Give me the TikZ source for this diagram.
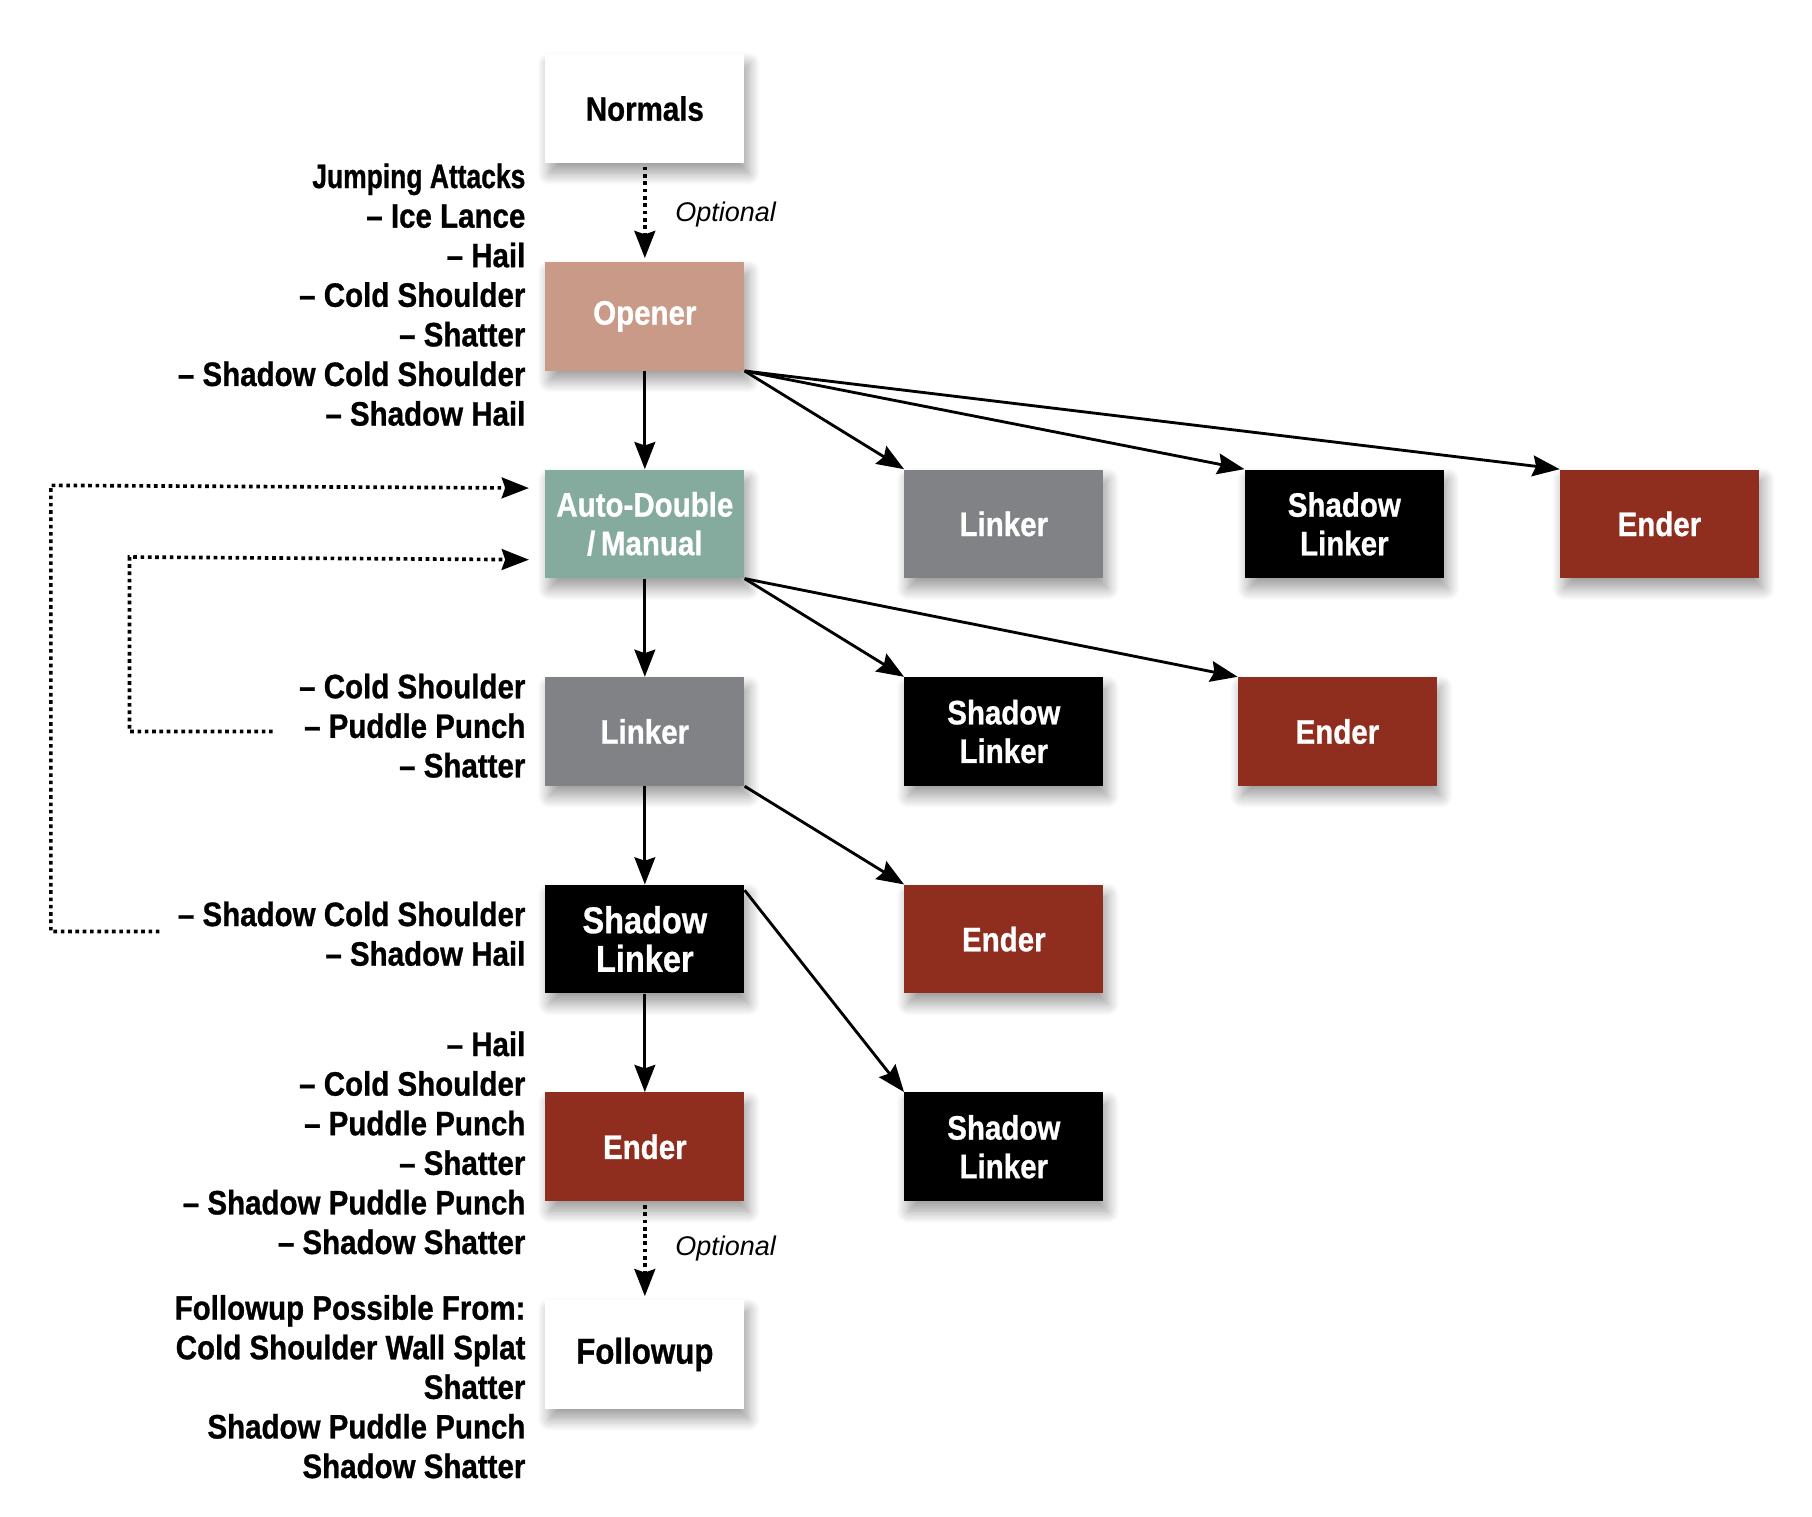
\documentclass[tikz,border=0pt]{standalone}
\usepackage{fontspec}
\setmainfont{Liberation Sans}[FakeStretch=0.87, BoldFeatures={FakeBold=0.8}]
\newfontfamily\optfont{Liberation Sans}
\usetikzlibrary{positioning, arrows.meta, shadows.blur, calc}
\definecolor{openertan}{HTML}{C89A87}
\definecolor{autoteal}{HTML}{85AB9E}
\definecolor{linkergray}{HTML}{808285}
\definecolor{enderred}{HTML}{8F2E1E}

\begin{document}
\begin{tikzpicture}[
    x=0.02cm, y=-0.02cm,
    box/.style={
        rectangle, minimum width=3.44cm, minimum height=1.88cm,
        align=center, text=white, inner sep=2pt,
        font=\bfseries\fontsize{16.7}{19}\selectfont,
        blur shadow={shadow xshift=2pt, shadow yshift=-5pt, shadow blur radius=6pt,
            shadow blur steps=14, shadow opacity=40}
    },
    plainbox/.style={box, fill=white, text=black},
    openbox/.style={box, fill=openertan},
    autobox/.style={box, fill=autoteal},
    linkbox/.style={box, fill=linkergray},
    shadowbox/.style={box, fill=black},
    endbox/.style={box, fill=enderred},
    movelist/.style={anchor=east, align=right, inner sep=0pt,
        font=\bfseries\fontsize{16.7}{19.5}\selectfont},
    optlabel/.style={anchor=west, inner sep=0pt,
        font=\optfont\itshape\fontsize{13.3}{16}\selectfont},
    arrow/.style={-{Stealth[length=0.47cm, width=0.36cm, inset=0.06cm]}, line width=1.4pt},
    optarrow/.style={arrow, line width=1.8pt, dash pattern=on 1.8pt off 1.8pt,
        shorten <=0.06cm, shorten >=0.06cm},
    looparrow/.style={arrow, line width=1.8pt, dash pattern=on 1.8pt off 1.8pt},
    node distance=1.7cm and 2.76cm,
]
\useasboundingbox (0,0) rectangle (1568,1312);

% main column
\node[plainbox] (normals) at (558,94) {Normals};
\node[openbox, below=of normals] (opener) {Opener};
\node[autobox, below=of opener] (autod) {Auto-Double\\/\,Manual};
\node[linkbox, below=of autod] (linker) {Linker};
\node[shadowbox, below=of linker, font=\bfseries\fontsize{18.4}{19}\selectfont] (shlinker) {Shadow\\Linker};
\node[endbox, below=of shlinker] (ender) {Ender};
\node[plainbox, below=of ender, font=\bfseries\fontsize{17.7}{19}\selectfont] (followup) {Followup};

% branches
\node[linkbox, right=of autod] (linkerb) {Linker};
\node[shadowbox, right=of linker] (shlinkerb) {Shadow\\Linker};
\node[endbox, right=of shlinker] (enderb) {Ender};
\node[shadowbox, right=of ender] (shlinkerc) {Shadow\\Linker};
\node[shadowbox, right=2.44cm of linkerb] (shlinkerd) {Shadow\\Linker};
\node[endbox, right=2.32cm of shlinkerb] (enderc) {Ender};
\node[endbox, right=2cm of shlinkerd] (enderd) {Ender};

% move lists
\node[movelist] (openmoves) at (455,255) {{\addfontfeatures{FakeStretch=0.78}Jumping Attacks}\\-- Ice Lance\\-- Hail\\-- Cold Shoulder\\-- Shatter\\-- Shadow Cold Shoulder\\-- Shadow Hail};
\node[movelist] (linkmoves) at (455,628) {-- Cold Shoulder\\-- Puddle Punch\\-- Shatter};
\node[movelist] (shadowmoves) at (455,808) {-- Shadow Cold Shoulder\\-- Shadow Hail};
\node[movelist] (endmoves) at (455,989) {-- Hail\\-- Cold Shoulder\\-- Puddle Punch\\-- Shatter\\-- Shadow Puddle Punch\\-- Shadow Shatter};
\node[movelist] (followmoves) at (455,1200) {Followup Possible From:\\Cold Shoulder Wall Splat\\Shatter\\Shadow Puddle Punch\\Shadow Shatter};

\node[optlabel] (optone) at (584,186) {Optional};
\node[optlabel] (opttwo) at (584,1080) {Optional};

\draw[optarrow] (normals) -- (opener);
\draw[arrow] (opener) -- (autod);
\draw[arrow] (autod) -- (linker);
\draw[arrow] (linker) -- (shlinker);
\draw[arrow] (shlinker) -- (ender);
\draw[optarrow] (ender) -- (followup);

\draw[arrow] (opener.south east) -- (linkerb.north west);
\draw[arrow] (opener.south east) -- (shlinkerd.north west);
\draw[arrow] (opener.south east) -- (enderd.north west);
\draw[arrow] (autod.south east) -- (shlinkerb.north west);
\draw[arrow] (autod.south east) -- (enderc.north west);
\draw[arrow] (linker.south east) -- (enderb.north west);
\draw[arrow] ([yshift=-0.1cm]shlinker.north east) -- (shlinkerc.north west);

% loops back to auto-double
\coordinate (outerfrom) at (138,806);
\coordinate (outercorner) at (44,420);
\coordinate (innerfrom) at (236,633);
\coordinate (innercorner) at (112,482);
\draw[looparrow] (outerfrom) -| (outercorner) -- ($(autod.west)+(-14,-31)$);
\draw[looparrow] (innerfrom) -| (innercorner) -- ($(autod.west)+(-14,31)$);
\end{tikzpicture}
\end{document}
